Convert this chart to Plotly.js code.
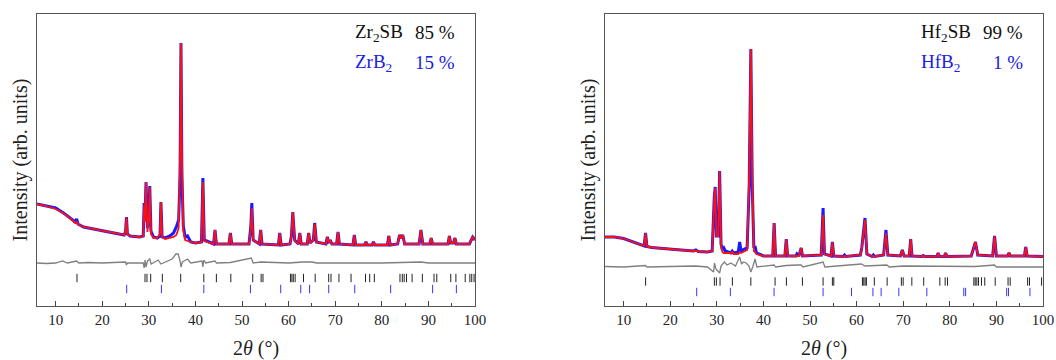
<!DOCTYPE html>
<html>
<head>
<meta charset="utf-8">
<script src="https://cdn.plot.ly/plotly-3.0.1.min.js"></script>
<style>html,body{margin:0;padding:0;background:#fff;}#chart{width:1056px;height:360px;}</style>
</head>
<body>
<div id="chart"></div>
<script>
// ---------- Left panel: Zr2SB / ZrB2 ----------
const zrX = [6,8,10,12,13.5,14.2,14.5,14.8,16,18,20,22,24.7,25.0,25.2,25.4,26,28,28.8,29.0,29.15,29.4,29.7,30.0,30.2,30.45,31,31.8,32.4,32.6,32.85,33.5,34.5,35.3,35.9,36.4,36.7,36.9,37.1,37.4,37.8,38.3,39,40,41.3,41.6,41.9,43.9,44.2,44.5,47.2,47.5,47.8,51.5,51.9,52.1,52.4,53.7,54.0,54.3,57.8,58.1,58.4,60.3,60.6,60.9,61.3,62.1,62.4,62.7,64.0,64.3,64.6,65.3,65.6,65.95,68.0,68.3,68.6,69.0,69.3,70.3,70.6,70.9,73.8,74.1,74.4,76.3,76.6,76.9,77.9,78.2,78.5,81.2,81.5,81.8,83.4,83.8,84.15,84.5,84.9,88.0,88.4,88.8,90.3,90.6,90.9,94.2,94.5,94.8,95.4,95.7,96.0,98.8,99.5,100];
const zrObs = [102,100,98,92,86,84,87,82,79,77,75,73.5,71,74,89,72,70,69,70,103,86,124,78,88,120,75,69,68,70,104,69,68,70,73,79,86,130,263,130,80,69,70,64,63,64,128,66,62,76,62,62,73,62,62,80,103,66,62,76,62,61,73,61,62,70,94,66,62,73,62,62,73,63,66,83,64,62,69,64,65,62,62,74,62,61,71,61,61,64,61,61,64,61,61,70,61,62,71,68,71,62,62,76,62,62,68,62,62,70,63,63,68,62,62,69,66];
const zrCalc = [102,100,97,92,86,83,84,82,79,77,75,73.5,71,74,89,72,70,69,70,101,84,124,74,86,119,72,68,68,72,104,69,67,68,69,71,78,150,263,150,75,66,65,64,63,64,124,65,62,76,62,62,73,62,62,78,98,66,62,76,62,61,73,61,62,70,94,66,62,73,62,62,73,63,66,82,64,62,69,64,65,62,62,74,62,61,71,61,61,64,61,61,64,61,61,70,61,62,71,68,71,62,62,76,62,62,68,62,62,70,63,63,68,62,62,69,66];
const zrDiffX = [6,8,10,11.5,12.5,14.5,15,17,20,23,25.0,25.2,25.4,28.8,29.0,29.2,29.4,29.7,30.2,30.5,31.5,32.0,32.6,33.5,35.0,35.8,36.3,36.7,36.9,37.2,37.8,38.3,39,41.4,41.6,41.8,42.2,44.2,44.5,47.5,52.0,52.4,54,58,60,63,65,66,70,80,88.4,90,100];
const zrDiff = [43,42.5,43,45,43,45,43,43.5,43,43.5,44,41,43,43,38,46,39,45,47,42,45,46,42,44,47,52,52,45,39,44,46,47,43,45,39,46,43,45,43,43.5,48,43,44,43,43,44,44,43,43,43,44,43,43];
const zrSBTicks = [14.58,29.18,29.6,30.4,32.9,36.84,41.8,44.5,47.6,52.3,54.1,54.5,60.4,60.7,61.0,61.4,63.2,65.7,68.6,69.1,70.8,73.4,76.5,77.4,78.4,83.9,84.4,84.8,85.3,86.5,88.7,91.2,91.8,94.8,95.9,97.9,98.9,99.3,99.8];
const zrB2Ticks = [25.25,32.7,41.8,51.8,58.3,62.6,64.5,68.6,74.2,81.9,90.9,96.0];

// ---------- Right panel: Hf2SB / HfB2 ----------
const hfX = [6,8,10,12,14.4,14.7,15.0,16,18,20,21,25,25.5,26,28,29.0,29.3,29.45,29.65,29.9,30.3,30.6,30.9,31.2,31.5,31.8,33.0,33.3,33.6,34.6,34.9,35.2,35.9,36.5,36.95,37.3,37.6,37.95,38.2,38.5,40,42.0,42.3,42.6,44.6,44.9,45.2,47.0,47.2,47.6,48.1,48.4,52.4,52.8,53.1,54.5,54.8,55.1,57.1,57.4,57.7,60.8,61.1,61.8,62.2,63.3,63.6,63.9,65.8,66.3,66.7,69.4,69.8,70.2,71.3,71.6,71.9,74.0,74.3,74.6,77.2,77.5,77.8,78.8,79.1,79.4,84.6,85.1,85.5,86.0,89.2,89.6,90.0,92.4,92.7,93.0,96.0,96.3,96.6,100];
const hfObs = [69,69,67.5,64,60,73,59.5,58.5,57.5,57,56.5,55,56,54.5,54,55,100,109,119,70,70,135,62,56,58,55,53,55,53,54,64,55,57,58,120,257,120,58,60,53,50,50,83,50,50,67,50,50,52,50,58,50,51,98,52,50,64,50,49.5,51,49.5,51,58,88,52,49.5,51,49.5,51,76,51,50,56,50,50,67,50,49.5,50.5,49.5,49.5,53,49.5,49.5,53,49.5,50,57,64,51,50,70,50,50,53,50,50,59,50,49.5];
const hfCalc = [69,69,67.5,64,60,73,59.5,58.5,57.5,57,56.5,55,55.5,54.5,54,55,100,108,118,70,70,135,60,54,53,53,53,54,52,52,54,53,55,56,130,257,130,55,54,52,50,50,83,50,50,67,50,50,50,50,58,50,51,91,52,50,64,50,49.5,50,49.5,51,57,86,52,49.5,50,49.5,51,73,51,50,56,50,50,67,50,49.5,50.5,49.5,49.5,53,49.5,49.5,53,49.5,50,57,64,51,50,70,50,50,53,50,50,59,50,49.5];
const hfDiffX = [6,10,14.7,15,20,25.5,28,29.3,29.5,29.8,30.6,30.9,31.6,32.2,33,34,34.9,35.3,35.7,36.3,36.9,37.3,37.7,38.2,38.6,42.3,42.6,44.9,47.2,48.1,48.5,52.8,53.2,57.4,61,61.8,63.5,65.8,66.5,67,70,85.5,89.6,90,100];
const hfDiff = [39.5,39,40.5,39,39.5,40,39,34,43,37,33,40,44,41,43,40,49,42,44,43,40,34,39,47,39,41,39,40.5,41,41,39,44,39,40.5,42,40,40.5,41,41,39,40,39.5,41,39,39];
const hf2SBTicks = [14.72,29.47,29.9,30.69,33.34,37.3,42.5,44.93,48.37,52.8,54.8,55.1,61.25,61.54,61.83,62.1,63.8,66.55,69.6,69.99,71.85,74.4,77.86,79.0,79.5,85.16,85.45,85.8,86.16,86.8,87.5,89.74,92.5,92.96,96.7,97.1,99.7];
const hfB2Ticks = [25.68,32.9,42.28,52.8,58.9,63.5,65.26,69.06,75.07,83.0,83.4,92.2,92.6,97.2];

const tickLabels = ['10','20','30','40','50','60','70','80','90','100'];
const tickVals = [10,20,30,40,50,60,70,80,90,100];

// ---------- styles ----------
const BLUE = '#1a1aff', RED = '#ff1010', GREY = '#7f7f7f';
const SERIF = 'Liberation Serif, Times New Roman, serif';

function panel(xa, ya, x, obs, calc, dx, diff, t1, t2, row1, row2) {
  return [
    {x: x, y: obs, xaxis: xa, yaxis: ya, mode: 'lines', line: {color: BLUE, width: 3}, hoverinfo: 'skip'},
    {x: x, y: calc, xaxis: xa, yaxis: ya, mode: 'lines', line: {color: RED, width: 1.8}, hoverinfo: 'skip'},
    {x: dx, y: diff, xaxis: xa, yaxis: ya, mode: 'lines', line: {color: GREY, width: 1.3}, hoverinfo: 'skip'},
    {x: t1, y: t1.map(() => row1), xaxis: xa, yaxis: ya, mode: 'markers',
     marker: {symbol: 'line-ns', size: 6, color: '#222', line: {color: '#222', width: 1}}, hoverinfo: 'skip'},
    {x: t2, y: t2.map(() => row2), xaxis: xa, yaxis: ya, mode: 'markers',
     marker: {symbol: 'line-ns', size: 6, color: '#3535ff', line: {color: '#3535ff', width: 1}}, hoverinfo: 'skip'}
  ];
}

const data = [
  ...panel('x', 'y', zrX, zrObs, zrCalc, zrDiffX, zrDiff, zrSBTicks, zrB2Ticks, 28, 17),
  ...panel('x2', 'y2', hfX, hfObs, hfCalc, hfDiffX, hfDiff, hf2SBTicks, hfB2Ticks, 24.5, 14)
];

function xaxis(domain, anchor) {
  return {
    domain: domain, anchor: anchor, range: [6, 100], tickmode: 'array',
    tickvals: tickVals, ticktext: tickLabels, ticks: 'inside', ticklen: 5, tickcolor: '#444',
    minor: {tickmode: 'linear', tick0: 0, dtick: 5, ticks: 'inside', ticklen: 3, tickcolor: '#444'},
    showline: true, mirror: true, linecolor: '#555', linewidth: 1, showgrid: false, zeroline: false,
    tickfont: {family: SERIF, size: 15, color: '#222'},
    title: {text: '2<i>θ</i> (°)', font: {family: SERIF, size: 20, color: '#222'}, standoff: 14}
  };
}
function yaxis(anchor) {
  return {
    anchor: anchor, range: [0, 292], showticklabels: false, ticks: '', showgrid: false, zeroline: false,
    showline: true, mirror: true, linecolor: '#555', linewidth: 1,
    title: {text: 'Intensity (arb. units)', font: {family: SERIF, size: 20, color: '#222'}, standoff: 3}
  };
}

const annFont = (c) => ({family: SERIF, size: 19, color: c});
const layout = {
  width: 1056, height: 360, showlegend: false,
  paper_bgcolor: '#fff', plot_bgcolor: '#fff',
  margin: {l: 0, r: 0, t: 14, b: 54},
  xaxis: xaxis([37/1056, 475/1056], 'y'),
  yaxis: yaxis('x'),
  xaxis2: xaxis([605/1056, 1043/1056], 'y2'),
  yaxis2: yaxis('x2'),
  annotations: [
    {xref: 'paper', yref: 'paper', x: 353/1056, y: 0.935, xanchor: 'left', yanchor: 'middle', showarrow: false, text: 'Zr<sub>2</sub>SB', font: annFont('#111')},
    {xref: 'paper', yref: 'paper', x: 457/1056, y: 0.935, xanchor: 'right', yanchor: 'middle', showarrow: false, text: '85 %', font: annFont('#111')},
    {xref: 'paper', yref: 'paper', x: 353/1056, y: 0.833, xanchor: 'left', yanchor: 'middle', showarrow: false, text: 'ZrB<sub>2</sub>', font: annFont('#2020e0')},
    {xref: 'paper', yref: 'paper', x: 457/1056, y: 0.833, xanchor: 'right', yanchor: 'middle', showarrow: false, text: '15 %', font: annFont('#2020e0')},
    {xref: 'paper', yref: 'paper', x: 919/1056, y: 0.935, xanchor: 'left', yanchor: 'middle', showarrow: false, text: 'Hf<sub>2</sub>SB', font: annFont('#111')},
    {xref: 'paper', yref: 'paper', x: 1025/1056, y: 0.935, xanchor: 'right', yanchor: 'middle', showarrow: false, text: '99 %', font: annFont('#111')},
    {xref: 'paper', yref: 'paper', x: 919/1056, y: 0.833, xanchor: 'left', yanchor: 'middle', showarrow: false, text: 'HfB<sub>2</sub>', font: annFont('#2020e0')},
    {xref: 'paper', yref: 'paper', x: 1025/1056, y: 0.833, xanchor: 'right', yanchor: 'middle', showarrow: false, text: '1 %', font: annFont('#2020e0')}
  ]
};

Plotly.newPlot('chart', data, layout, {staticPlot: true, displayModeBar: false});
</script>
</body>
</html>
